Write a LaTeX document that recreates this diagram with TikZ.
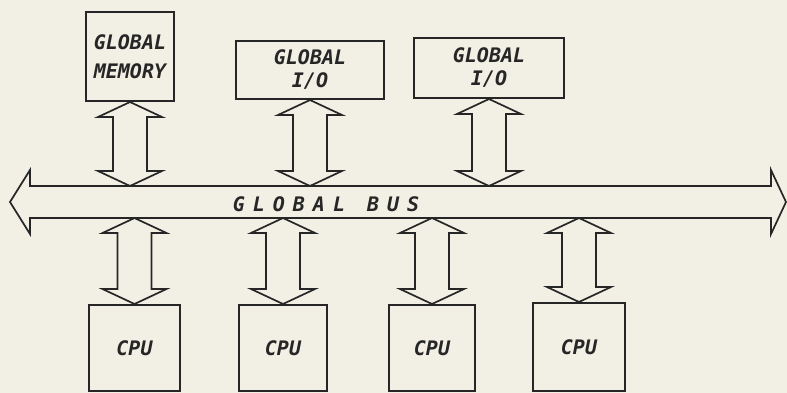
\documentclass[tikz,border=0pt]{standalone}
\usepackage{pgf,tikz}
\usepackage{fontspec}
\usetikzlibrary{calc}
\newfontfamily\plotfont{DejaVu Sans Mono}
\definecolor{paper}{RGB}{242,240,228}
\definecolor{ink}{RGB}{38,38,38}

% hollow two-headed arrow between two points, #1 above #2
\newcommand{\busarrow}[2]{%
\draw [link] let \p1=(#1), \p2=(#2) in
 (\x1,\y1) -- (\x1-32pt,\y1-15pt) -- (\x1-17pt,\y1-15pt) -- (\x1-17pt,\y2+15pt)
 -- (\x1-32pt,\y2+15pt) -- (\x1,\y2) -- (\x1+32pt,\y2+15pt) -- (\x1+17pt,\y2+15pt)
 -- (\x1+17pt,\y1-15pt) -- (\x1+32pt,\y1-15pt) -- cycle;}
\newcommand{\gap}{\kern8pt}

\begin{document}
\begin{tikzpicture}[x=1pt,y=-1pt,
 unit/.style={draw=ink, line width=2pt, inner sep=0pt, text=ink, align=center,
   font=\plotfont\bfseries\itshape\fontsize{20}{23}\selectfont},
 link/.style={draw=ink, line width=1.7pt, line join=miter}]
\useasboundingbox (0,0) rectangle (787,393);
\fill [paper] (0,0) rectangle (787,393);
% global units
\node [unit, minimum width=88pt, minimum height=89pt] (mem) at (130,56.5) {GLOBAL\\[6pt]MEMORY};
\node [unit, minimum width=148pt, minimum height=58pt] (io1) at (310,70) {GLOBAL\\I/O};
\node [unit, minimum width=150pt, minimum height=60pt] (io2) at (489,68) {GLOBAL\\I/O};
% processors
\node [unit, minimum width=91pt, minimum height=86pt] (cpu1) at (134.5,348) {CPU};
\node [unit, minimum width=88pt, minimum height=86pt] (cpu2) at (283,348) {CPU};
\node [unit, minimum width=86pt, minimum height=86pt] (cpu3) at (432,348) {CPU};
\node [unit, minimum width=92pt, minimum height=88pt] (cpu4) at (579,347) {CPU};
% the bus
\draw [link] (30,186) -- (30,170) -- (10,202) -- (30,234) -- (30,218) -- (771,218)
 -- (771,234) -- (786,202) -- (771,170) -- (771,186) -- cycle;
\coordinate (bustop) at (0,186);
\coordinate (busbot) at (0,218);
\node [text=ink, font=\plotfont\bfseries\itshape\fontsize{20}{23}\selectfont] (buslabel) at (326,204)
 {G\gap L\gap O\gap B\gap A\gap L\hspace{22pt}B\gap U\gap S};
% connections
\busarrow{mem.south}{mem.south |- bustop}
\busarrow{io1.south}{io1.south |- bustop}
\busarrow{io2.south}{io2.south |- bustop}
\foreach \c in {cpu1,cpu2,cpu3,cpu4}
 \busarrow{\c.north |- busbot}{\c.north};
\end{tikzpicture}
\end{document}
